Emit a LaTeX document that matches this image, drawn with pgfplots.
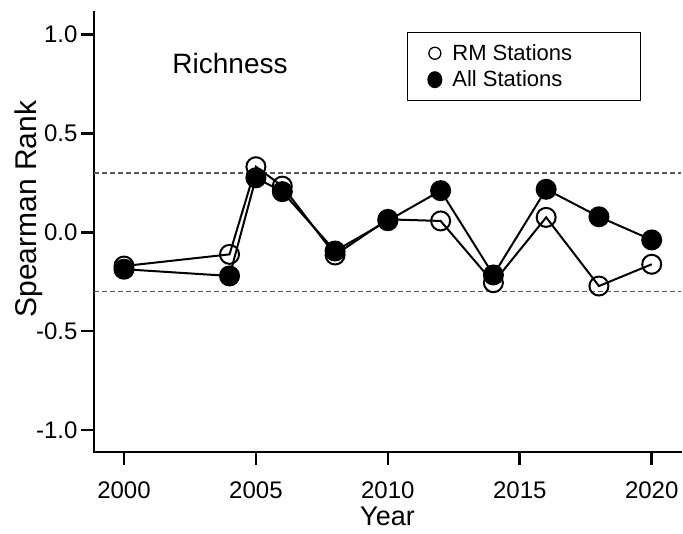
\documentclass[border=0pt]{standalone}
\usepackage{fontspec}
\setmainfont{Liberation Sans}
\usepackage{pgfplots}
\pgfplotsset{compat=1.18}

% Spearman rank by year
\pgfplotstableread{
year rm
2000 -0.171
2004 -0.112
2005 0.331
2006 0.233
2008 -0.115
2010 0.065
2012 0.057
2014 -0.255
2016 0.075
2018 -0.272
2020 -0.162
}\rmdata
\pgfplotstableread{
year all
2000 -0.187
2004 -0.221
2005 0.275
2006 0.205
2008 -0.095
2010 0.058
2012 0.210
2014 -0.216
2016 0.217
2018 0.078
2020 -0.039
}\alldata

\begin{document}
\begin{tikzpicture}
\begin{axis}[
  scale only axis,
  width=587pt, height=440pt,
  xmin=1998.863, xmax=2021.11,
  ymin=-1.111, ymax=1.113,
  axis x line*=bottom, axis y line*=left,
  axis line style={line width=2.6pt, line cap=rect},
  every tick/.style={line width=2.6pt, black},
  major tick length=13pt,
  tick align=outside,
  xtick={2000,2005,2010,2015,2020},
  xticklabels={2000,2005,2010,2015,2020},
  ytick={-1,-0.5,0,0.5,1},
  yticklabels={-1.0,-0.5,0.0,0.5,1.0},
  tick label style={font=\fontsize{24}{28}\selectfont},
  xticklabel style={yshift=-13pt},
  xlabel={Year},
  ylabel={Spearman Rank},
  xlabel style={font=\fontsize{27}{30}\selectfont, at={(axis description cs:0.5,-0.166)}, anchor=base},
  ylabel style={font=\fontsize{30}{34}\selectfont, at={(axis description cs:-0.0971,0.552)}, anchor=base},
  clip=false,
  legend style={at={(axis description cs:0.533,0.9545)}, anchor=north west,
    draw=black, line width=1pt, font=\fontsize{22}{24}\selectfont,
    inner xsep=20pt, inner ysep=11pt, row sep=7pt, column sep=9pt,
    cells={anchor=west}, nodes={inner sep=1pt}},
]
\addplot[forget plot, gray!70!black, line width=1.3pt, dash pattern=on 5pt off 3pt]
  coordinates {(1998.863,0.3) (2021.11,0.3)};
\addplot[forget plot, gray!70!black, line width=1.3pt, dash pattern=on 5pt off 3pt]
  coordinates {(1998.863,-0.3) (2021.11,-0.3)};

\addplot[black, line width=2pt, mark=o, mark size=9.5pt,
  legend image code/.code={\draw[line width=1.3pt, fill=white] (0pt,0pt) circle (6pt);}]
  table[x=year, y=rm] {\rmdata};
\addlegendentry{\makebox[167pt][l]{RM Stations}}
\addplot[black, line width=2pt, mark=*, mark size=9.5pt,
  legend image code/.code={\fill[black] (0pt,0pt) ellipse (6.5pt and 7.5pt);}]
  table[x=year, y=all] {\alldata};
\addlegendentry{\makebox[167pt][l]{All Stations}}

\node[anchor=base, font=\fontsize{28}{32}\selectfont] at (axis cs:2004.02,0.803) {Richness};
\path (axis description cs:-0.1601,-0.1841) rectangle (axis description cs:1.0034,1.0273);
\end{axis}
\end{tikzpicture}
\end{document}
